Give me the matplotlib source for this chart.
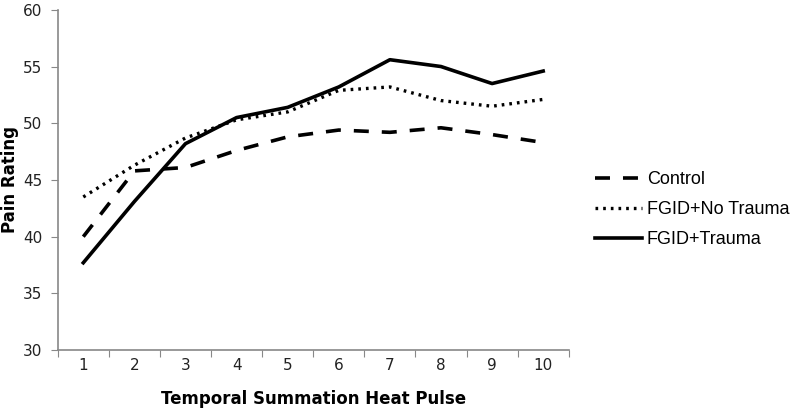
import numpy as np
import matplotlib
matplotlib.use("Agg")
import matplotlib.pyplot as plt

# heat pulse number 1..10
pulses = [1, 2, 3, 4, 5, 6, 7, 8, 9, 10]
control = [40.0, 45.8, 46.1, 47.6, 48.8, 49.4, 49.2, 49.6, 49.0, 48.3]
fgid_no_trauma = [43.5, 46.3, 48.7, 50.3, 51.0, 52.9, 53.2, 52.0, 51.5, 52.1]
fgid_trauma = [37.7, 43.1, 48.2, 50.5, 51.4, 53.2, 55.6, 55.0, 53.5, 54.6]
yticks = [30, 35, 40, 45, 50, 55, 60]

fig = plt.figure(figsize=(7.91, 4.09), dpi=100)
ax = fig.add_axes([0.073, 0.144, 0.646, 0.832])

x = np.array(pulses) - 0.5
ax.plot(x, control, color="black", lw=2.6, dashes=(4.15, 3.6), label="Control")
ax.plot(x, fgid_no_trauma, color="black", lw=2.4, dashes=(0.8, 1.5), label="FGID+No Trauma")
ax.plot(x, fgid_trauma, color="black", lw=2.6, label="FGID+Trauma")

ax.set_xlim(0, 10)
ax.set_ylim(30, 60)
ax.set_yticks(yticks)
ax.set_xticks(range(0, 11))
ax.set_xticklabels([])
ax.set_xticks(x, minor=True)
ax.set_xticklabels([str(p) for p in pulses], minor=True)
ax.tick_params(axis="x", which="minor", length=0, pad=6, labelsize=11, labelcolor="#222222")
ax.tick_params(axis="x", which="major", length=5, color="#888888", direction="out")
ax.tick_params(axis="y", length=5, color="#888888", direction="out", pad=6,
               labelsize=11, labelcolor="#222222")

for s in ["top", "right"]:
    ax.spines[s].set_visible(False)
for s in ["left", "bottom"]:
    ax.spines[s].set_color("#888888")
    ax.spines[s].set_linewidth(1.2)

ax.set_xlabel("Temporal Summation Heat Pulse", fontsize=12, fontweight="bold")
ax.xaxis.set_label_coords(0.5, -0.117)
ax.set_ylabel("Pain Rating", fontsize=12, fontweight="bold")
ax.yaxis.set_label_coords(-0.076, 0.5)

leg = ax.legend(loc="center left", bbox_to_anchor=(1.051, 0.412), frameon=False,
                borderaxespad=0, borderpad=0, handlelength=2.6, handletextpad=0.28,
                labelspacing=0.72, prop={"family": "Liberation Sans", "size": 13})

fig.savefig("out.png", dpi=100)
